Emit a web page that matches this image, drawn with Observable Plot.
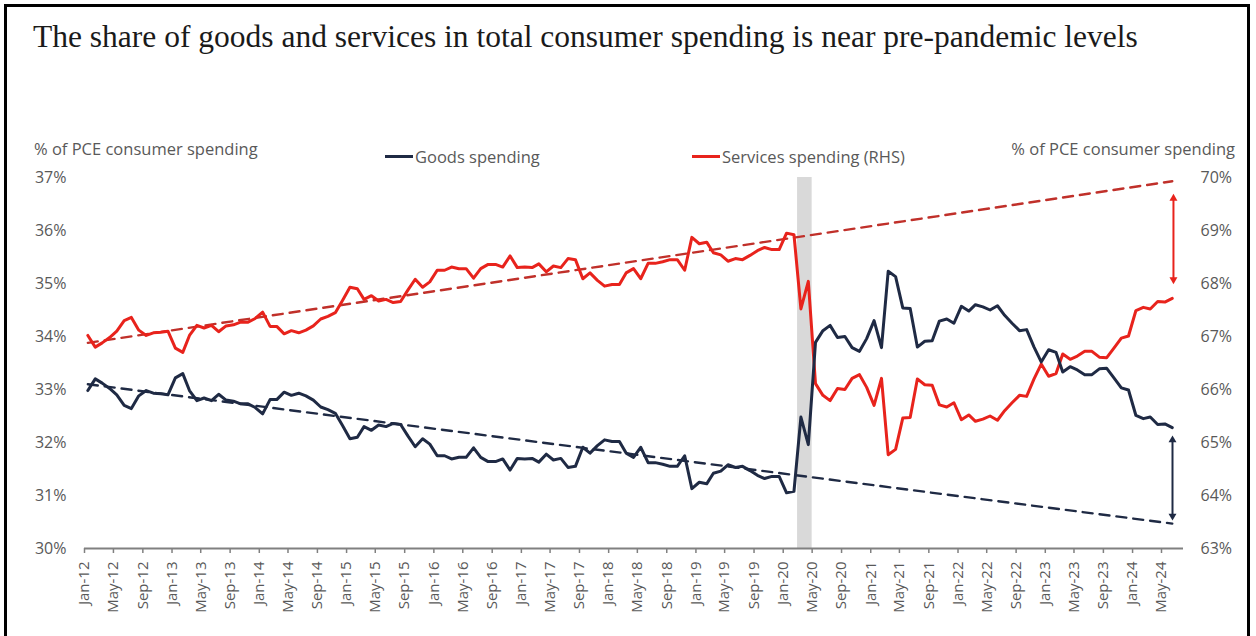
<!DOCTYPE html>
<html><head><meta charset="utf-8">
<script src="https://cdn.jsdelivr.net/npm/d3@7"></script>
<script src="https://cdn.jsdelivr.net/npm/@observablehq/plot@0.6"></script>
<style>
html,body{margin:0;padding:0;background:#fff;}
#wrap{position:relative;width:1256px;height:636px;overflow:hidden;font-family:"Open Sans",sans-serif;}
#frame{position:absolute;left:4px;top:4px;width:1246px;height:700px;border:3px solid #000;box-sizing:border-box;}
#title{position:absolute;left:33px;top:19px;font-family:"Liberation Serif",serif;font-size:31.5px;color:#1a1a1a;white-space:nowrap;}
.axt{position:absolute;top:137px;font-size:16.5px;color:#595959;white-space:nowrap;}
#chart{position:absolute;left:0;top:130px;}
.leg{position:absolute;top:145px;font-size:16.5px;color:#595959;display:flex;align-items:center;white-space:nowrap;}
.leg i{display:inline-block;width:28px;height:3px;margin-right:2px;}
</style></head>
<body>
<div id="wrap">
  <div id="frame"></div>
  <div id="title">The share of goods and services in total consumer spending is near pre-pandemic levels</div>
  <div class="axt" style="left:34px">% of PCE consumer spending</div>
  <div class="axt" style="right:21px">% of PCE consumer spending</div>
  <div class="leg" style="left:385px"><i style="background:#1f2a44"></i>Goods spending</div>
  <div class="leg" style="left:692px"><i style="background:#e8231c"></i>Services spending (RHS)</div>
  <div id="chart"></div>
</div>
<script>
// Monthly series, Jan-2012 .. Jun-2024 (% of PCE)
const startYear = 2012;
const goods = [
 32.98,33.20,33.12,33.02,32.90,32.70,32.64,32.88,32.98,32.93,32.92,32.90,
 33.22,33.30,32.98,32.79,32.84,32.79,32.91,32.80,32.78,32.73,32.73,32.66,
 32.54,32.81,32.81,32.95,32.89,32.93,32.88,32.80,32.67,32.62,32.55,32.32,
 32.07,32.10,32.30,32.23,32.33,32.30,32.36,32.34,32.12,31.92,32.07,31.97,
 31.75,31.75,31.69,31.72,31.72,31.90,31.72,31.64,31.64,31.69,31.48,31.70,
 31.69,31.70,31.63,31.78,31.67,31.70,31.53,31.55,31.91,31.80,31.94,32.05,
 32.02,32.02,31.80,31.72,31.91,31.62,31.62,31.59,31.55,31.55,31.75,31.13,
 31.25,31.22,31.42,31.46,31.58,31.53,31.55,31.47,31.38,31.32,31.36,31.36,
 31.05,31.08,32.48,31.96,33.89,34.11,34.21,33.98,34.00,33.79,33.72,33.96,
 34.30,33.79,35.23,35.13,34.54,34.53,33.80,33.91,33.92,34.29,34.33,34.25,
 34.57,34.48,34.60,34.56,34.50,34.58,34.40,34.25,34.11,34.13,33.80,33.52,
 33.75,33.70,33.33,33.43,33.37,33.28,33.28,33.39,33.40,33.22,33.03,32.99,
 32.51,32.45,32.48,32.34,32.35,32.28
];
const services = [
 67.02,66.80,66.88,66.98,67.10,67.30,67.36,67.12,67.02,67.07,67.08,67.10,
 66.78,66.70,67.02,67.21,67.16,67.21,67.09,67.20,67.22,67.27,67.27,67.34,
 67.46,67.19,67.19,67.05,67.11,67.07,67.12,67.20,67.33,67.38,67.45,67.68,
 67.93,67.90,67.70,67.77,67.67,67.70,67.64,67.66,67.88,68.08,67.93,68.03,
 68.25,68.25,68.31,68.28,68.28,68.10,68.28,68.36,68.36,68.31,68.52,68.30,
 68.31,68.30,68.37,68.22,68.33,68.30,68.47,68.45,68.09,68.20,68.06,67.95,
 67.98,67.98,68.20,68.28,68.09,68.38,68.38,68.41,68.45,68.45,68.25,68.87,
 68.75,68.78,68.58,68.54,68.42,68.47,68.45,68.53,68.62,68.68,68.64,68.64,
 68.95,68.92,67.52,68.04,66.11,65.89,65.79,66.02,66.00,66.21,66.28,66.04,
 65.70,66.21,64.77,64.87,65.46,65.47,66.20,66.09,66.08,65.71,65.67,65.75,
 65.43,65.52,65.40,65.44,65.50,65.42,65.60,65.75,65.89,65.87,66.20,66.48,
 66.25,66.30,66.67,66.57,66.63,66.72,66.72,66.61,66.60,66.78,66.97,67.01,
 67.49,67.55,67.52,67.66,67.65,67.72
];
// Trend lines (start Jan-12, end Jun-24)
const trendEnds = ["2012-01", "2024-06"];
const goodsTrend = [33.10, 30.47];
const servicesTrend = [66.88, 69.93];
// Gap arrows (value at top, value at bottom)
const servicesGap = [69.72, 67.96];
const goodsGap = [32.16, 30.50];
// Shaded pandemic period
const shadeMonths = ["2020-03", "2020-05"];
// Axis ticks
const leftTicks = [30, 31, 32, 33, 34, 35, 36, 37];
const leftTickLabels = ["30%", "31%", "32%", "33%", "34%", "35%", "36%", "37%"];
const rightTickLabels = ["63%", "64%", "65%", "66%", "67%", "68%", "69%", "70%"];
const rhsOffset = 33; // RHS value = LHS value + 33

const navy = "#1f2a44", red = "#e8231c", darkRed = "#c0302a";
const mid = (i) => new Date(Date.UTC(startYear, i, 15));
const ym = (s) => { const [y, m] = s.split("-").map(Number); return new Date(Date.UTC(y, m - 1, 1)); };
const ymMid = (s) => { const [y, m] = s.split("-").map(Number); return new Date(Date.UTC(y, m - 1, 15)); };

const goodsData = goods.map((v, i) => ({date: mid(i), v}));
const servData = services.map((v, i) => ({date: mid(i), v: v - rhsOffset}));
const gTrend = trendEnds.map((m, i) => ({date: ymMid(m), v: goodsTrend[i]}));
const sTrend = trendEnds.map((m, i) => ({date: ymMid(m), v: servicesTrend[i] - rhsOffset}));
const lastDate = mid(goods.length - 1);
const sArrowX = new Date(lastDate.getTime() + 5 * 864e5);
const gArrowX = new Date(lastDate.getTime() + 1 * 864e5);
const xTicks = d3.utcMonth.every(4).range(new Date(Date.UTC(2012, 0, 1)), new Date(Date.UTC(2024, 6, 1)));

const chart = Plot.plot({
  width: 1256, height: 506,
  marginLeft: 84, marginRight: 73, marginTop: 47, marginBottom: 88,
  style: {fontFamily: "'Open Sans', sans-serif", color: "#595959", background: "transparent"},
  x: {type: "utc", domain: [new Date(Date.UTC(2012, 0, 1)), new Date(Date.UTC(2024, 7, 1))]},
  y: {domain: [30, 37]},
  marks: [
    Plot.rect([0], {x1: () => ym(shadeMonths[0]), x2: () => ym(shadeMonths[1]), y1: 30, y2: 37, fill: "#d9d9d9"}),
    Plot.ruleY([30], {stroke: "#808080", strokeWidth: 2}),
    Plot.axisX({ticks: xTicks, tickFormat: d3.utcFormat("%b-%y"), tickRotate: -90, tickSize: 5, tickPadding: 8,
      fontSize: 15, stroke: "#808080", strokeWidth: 1.5, label: null}),
    Plot.axisY({anchor: "left", ticks: leftTicks, tickFormat: (d) => leftTickLabels[leftTicks.indexOf(d)],
      tickSize: 0, tickPadding: 18, fontSize: 16, label: null}),
    Plot.axisY({anchor: "right", ticks: leftTicks, tickFormat: (d) => rightTickLabels[leftTicks.indexOf(d)],
      tickSize: 0, tickPadding: 17, fontSize: 16, label: null}),
    Plot.line(sTrend, {x: "date", y: "v", stroke: darkRed, strokeWidth: 2.4, strokeDasharray: "10,7"}),
    Plot.line(gTrend, {x: "date", y: "v", stroke: navy, strokeWidth: 2.4, strokeDasharray: "10,7"}),
    Plot.line(servData, {x: "date", y: "v", stroke: red, strokeWidth: 3, strokeLinejoin: "round"}),
    Plot.line(goodsData, {x: "date", y: "v", stroke: navy, strokeWidth: 3, strokeLinejoin: "round"}),
    // gap arrows
    Plot.ruleX([sArrowX], {y1: servicesGap[0] - rhsOffset, y2: servicesGap[1] - rhsOffset, stroke: red, strokeWidth: 2, insetTop: 6, insetBottom: 6}),
    Plot.dot([0], {x: () => sArrowX, y: servicesGap[0] - rhsOffset, symbol: "triangle2", r: 3.8, fill: red, dy: 6}),
    Plot.dot([0], {x: () => sArrowX, y: servicesGap[1] - rhsOffset, symbol: "triangle2", r: 3.8, fill: red, dy: -6, rotate: 180}),
    Plot.ruleX([gArrowX], {y1: goodsGap[0], y2: goodsGap[1], stroke: navy, strokeWidth: 2, insetTop: 6, insetBottom: 6}),
    Plot.dot([0], {x: () => gArrowX, y: goodsGap[0], symbol: "triangle2", r: 3.8, fill: navy, dy: 6}),
    Plot.dot([0], {x: () => gArrowX, y: goodsGap[1], symbol: "triangle2", r: 3.8, fill: navy, dy: -6, rotate: 180})
  ]
});
document.getElementById("chart").appendChild(chart);
</script>
</body></html>
